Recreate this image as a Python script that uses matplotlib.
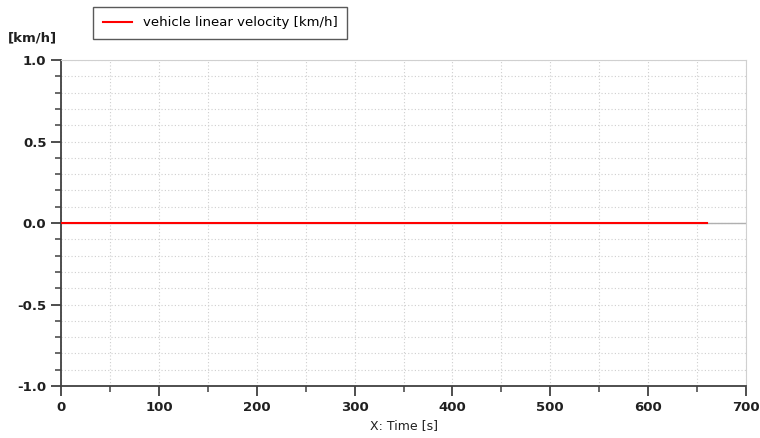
import matplotlib
matplotlib.use('Agg')
import matplotlib.pyplot as plt
from matplotlib.ticker import MultipleLocator

# data
time = [0, 660]
velocity = [0.0, 0.0]
series_label = 'vehicle linear velocity [km/h]'

fig = plt.figure(figsize=(7.6, 4.38), dpi=100)
ax = fig.add_axes([0.0803, 0.1187, 0.9013, 0.7443])

ax.axhline(0, color='#b0b0b0', lw=1, zorder=1)
line, = ax.plot(time, velocity, color='#ff0000', lw=1.5, zorder=3)

ax.set_xlim(0, 700)
ax.set_ylim(-1.0, 1.0)
ax.xaxis.set_major_locator(MultipleLocator(100))
ax.xaxis.set_minor_locator(MultipleLocator(50))
ax.yaxis.set_major_locator(MultipleLocator(0.5))
ax.yaxis.set_minor_locator(MultipleLocator(0.1))
ax.yaxis.set_major_formatter(plt.FormatStrFormatter('%.1f'))

ax.grid(which='both', color='#cfcfcf', ls=(0, (1, 2)), lw=0.8)
ax.set_axisbelow(True)

for s in ['top', 'right']:
    ax.spines[s].set_color('#d0d0d0')
for s in ['left', 'bottom']:
    ax.spines[s].set_color('#404040')
    ax.spines[s].set_linewidth(1.3)

ax.tick_params(which='major', length=7, width=1.3, color='#404040', direction='out')
ax.tick_params(which='minor', length=4, width=1.1, color='#404040', direction='out')
for lab in ax.get_xticklabels() + ax.get_yticklabels():
    lab.set_fontweight('bold')
    lab.set_fontsize(9.5)
    lab.set_color('#202020')

ax.set_xlabel('X: Time [s]', fontsize=9, color='#202020', labelpad=4)
fig.text(0.01, 0.905, '[km/h]', fontsize=9.5, fontweight='bold', color='#202020')

leg = fig.legend([line], [series_label], loc='upper left',
                 bbox_to_anchor=(0.114, 1.0), frameon=True, fancybox=False,
                 fontsize=9.5, handlelength=2.2, borderpad=0.75)
leg.get_frame().set_edgecolor('#303030')
leg.get_frame().set_linewidth(1.0)

fig.savefig('out.png', dpi=100)
